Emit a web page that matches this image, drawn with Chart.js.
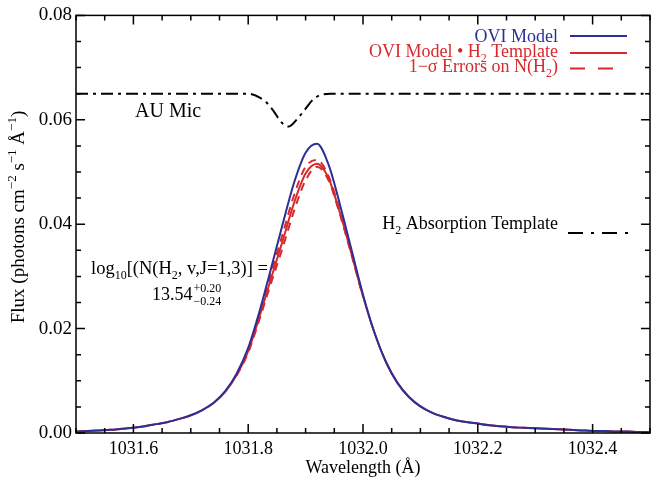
<!DOCTYPE html>
<html>
<head>
<meta charset="utf-8">
<script src="https://cdn.jsdelivr.net/npm/chart.js@4.4.1/dist/chart.umd.min.js"></script>
<style>
body { margin: 0; background: #fff; }
</style>
</head>
<body>
<canvas id="chart-ovi" width="651" height="481"></canvas>
<script>
// wavelength grid (Angstrom) and fluxes
var wavelength = [1031.50, 1031.52, 1031.54, 1031.56, 1031.58, 1031.60, 1031.62, 1031.64, 1031.66, 1031.68,
    1031.70, 1031.72, 1031.74, 1031.76, 1031.78, 1031.80, 1031.82, 1031.84, 1031.86, 1031.88,
    1031.90, 1031.92, 1031.94, 1031.96, 1031.98, 1032.00, 1032.02, 1032.04, 1032.06, 1032.08,
    1032.10, 1032.12, 1032.14, 1032.16, 1032.18, 1032.20, 1032.22, 1032.24, 1032.26, 1032.28,
    1032.30, 1032.32, 1032.34, 1032.36, 1032.38, 1032.40, 1032.42, 1032.44, 1032.46, 1032.48, 1032.50];

var oviModel = [0.0003, 0.0004, 0.0005, 0.0006, 0.0008, 0.0010, 0.0013, 0.0017, 0.0021, 0.0027,
    0.0034, 0.0044, 0.0058, 0.0080, 0.0114, 0.0163, 0.0234, 0.0316, 0.0400, 0.0480,
    0.0537, 0.0554, 0.0514, 0.0437, 0.0351, 0.0265, 0.0192, 0.0136, 0.0096, 0.0069,
    0.0051, 0.0039, 0.0031, 0.0025, 0.0021, 0.0018, 0.0015, 0.0013, 0.0011, 0.0010,
    0.0009, 0.0008, 0.0007, 0.0006, 0.0005, 0.0004, 0.0004, 0.0003, 0.0003, 0.0002, 0.0002];

var oviTimesH2 = [0.0003, 0.0004, 0.0005, 0.0006, 0.0008, 0.0010, 0.0013, 0.0017, 0.0021, 0.0027,
    0.0034, 0.0044, 0.0058, 0.0079, 0.0111, 0.0157, 0.0224, 0.0297, 0.0368, 0.0441,
    0.0497, 0.0516, 0.0488, 0.0421, 0.0343, 0.0262, 0.0192, 0.0136, 0.0096, 0.0069,
    0.0051, 0.0039, 0.0031, 0.0025, 0.0021, 0.0018, 0.0015, 0.0013, 0.0011, 0.0010,
    0.0009, 0.0008, 0.0007, 0.0006, 0.0005, 0.0004, 0.0004, 0.0003, 0.0003, 0.0002, 0.0002];

// 1-sigma error curves on N(H2), only where they split from the solid red line
var errWave = [1031.78, 1031.80, 1031.82, 1031.84, 1031.86, 1031.88, 1031.90, 1031.92, 1031.94, 1031.96, 1031.98, 1032.00];
var errHigh = [0.0112, 0.0160, 0.0229, 0.0306, 0.0381, 0.0456, 0.0510, 0.0523, 0.0492, 0.0424, 0.0345, 0.0263];
var errLow = [0.0110, 0.0154, 0.0219, 0.0288, 0.0355, 0.0426, 0.0484, 0.0510, 0.0484, 0.0418, 0.0341, 0.0261];

// H2 absorption template (scaled, offset to 0.065)
var templateWave = [1031.50, 1031.800, 1031.821, 1031.832, 1031.844, 1031.858, 1031.870, 1031.885, 1031.899, 1031.913, 1031.925, 1031.943, 1032.50];
var templateFlux = [0.0650, 0.0650, 0.0642, 0.0633, 0.0617, 0.0595, 0.0587, 0.0601, 0.0620, 0.0639, 0.0647, 0.0650, 0.0650];

var xTicks = [1031.6, 1031.8, 1032.0, 1032.2, 1032.4];
var yTicks = [0.00, 0.02, 0.04, 0.06, 0.08];

var SERIF = "'Liberation Serif', 'DejaVu Serif', serif";
var BLUE = '#2d2f96';
var RED = '#d7282e';

function toPoints(xs, ys) {
    return xs.map(function (x, i) { return { x: x, y: ys[i] }; });
}

// draws text with sub/superscript pieces: parts = [[text, mode]], mode 1 = sup, -1 = sub
function drawRich(ctx, parts, x, y, size, align, color) {
    var small = Math.round(size * 0.66);
    var w = 0;
    parts.forEach(function (p) {
        ctx.font = (p[1] ? small : size) + 'px ' + SERIF;
        w += ctx.measureText(p[0]).width;
    });
    var cx = x;
    if (align === 'right') cx = x - w;
    if (align === 'center') cx = x - w / 2;
    ctx.fillStyle = color;
    ctx.textAlign = 'left';
    ctx.textBaseline = 'alphabetic';
    parts.forEach(function (p) {
        ctx.font = (p[1] ? small : size) + 'px ' + SERIF;
        var dy = 0;
        if (p[1] === 1) dy = -size * 0.42;
        if (p[1] === -1) dy = size * 0.28;
        ctx.fillText(p[0], cx, y + dy);
        cx += ctx.measureText(p[0]).width;
    });
    return cx;
}

function legendLine(ctx, x1, x2, y, color, dash) {
    ctx.save();
    ctx.strokeStyle = color;
    ctx.lineWidth = 2;
    ctx.setLineDash(dash || []);
    ctx.beginPath();
    ctx.moveTo(x1, y);
    ctx.lineTo(x2, y);
    ctx.stroke();
    ctx.restore();
}

var idlAxes = {
    id: 'idlAxes',
    afterDatasetsDraw: function (chart) {
        var ctx = chart.ctx;
        var ca = chart.chartArea;
        var xs = chart.scales.x;
        var ys = chart.scales.y;
        ctx.save();
        ctx.strokeStyle = '#000';
        ctx.lineWidth = 1.5;
        ctx.strokeRect(ca.left, ca.top, ca.right - ca.left, ca.bottom - ca.top);

        // inward ticks, majors every 0.2 A / 0.02, minors in between
        ctx.beginPath();
        for (var i = 0; i <= 20; i++) {
            var v = 1031.5 + i * 0.05;
            var px = xs.getPixelForValue(v);
            var len = (i % 4 === 2) ? 9 : 5;
            ctx.moveTo(px, ca.bottom); ctx.lineTo(px, ca.bottom - len);
            ctx.moveTo(px, ca.top); ctx.lineTo(px, ca.top + len);
        }
        for (var j = 0; j <= 16; j++) {
            var py = ys.getPixelForValue(j * 0.005);
            var l2 = (j % 4 === 0) ? 9 : 5;
            ctx.moveTo(ca.left, py); ctx.lineTo(ca.left + l2, py);
            ctx.moveTo(ca.right, py); ctx.lineTo(ca.right - l2, py);
        }
        ctx.stroke();

        // y axis title
        ctx.save();
        ctx.translate(24, 217);
        ctx.rotate(-Math.PI / 2);
        drawRich(ctx, [['Flux (photons cm', 0], ['\u22122', 1], [' s', 0], ['\u22121', 1],
            [' \u00c5', 0], ['\u22121', 1], [')', 0]], 0, 0, 19, 'center', '#000');
        ctx.restore();

        // legend
        drawRich(ctx, [['OVI Model', 0]], 558, 41.5, 18, 'right', BLUE);
        legendLine(ctx, 570, 627, 36, BLUE);
        drawRich(ctx, [['OVI Model \u2022 H', 0], ['2', -1], [' Template', 0]], 558, 57, 18, 'right', RED);
        legendLine(ctx, 570, 627, 53, RED);
        drawRich(ctx, [['1\u2212\u03c3 Errors on N(H', 0], ['2', -1], [')', 0]], 558, 72, 18, 'right', RED);
        legendLine(ctx, 570, 614, 68.5, RED, [15, 13]);

        drawRich(ctx, [['AU Mic', 0]], 135, 117, 20, 'left', '#000');

        drawRich(ctx, [['H', 0], ['2', -1], [' Absorption Template', 0]], 558, 229, 18, 'right', '#000');
        legendLine(ctx, 568, 628, 233, '#000', [15, 8, 3, 8]);

        drawRich(ctx, [['log', 0], ['10', -1], ['[(N(H', 0], ['2', -1], [', v,J=1,3)] =', 0]], 91, 274, 18.5, 'left', '#000');
        var ex = drawRich(ctx, [['13.54', 0]], 152, 300, 18, 'left', '#000');
        drawRich(ctx, [['+0.20', 0]], ex + 1, 292, 12, 'left', '#000');
        drawRich(ctx, [['\u22120.24', 0]], ex + 1, 305, 12, 'left', '#000');

        ctx.restore();
    }
};

var chartCtx = document.getElementById('chart-ovi').getContext('2d');
var chartOvi = new Chart(chartCtx, {
    type: 'line',
    data: {
        datasets: [{
            label: 'OVI Model',
            data: toPoints(wavelength, oviModel),
            borderColor: BLUE,
            borderWidth: 2,
            pointRadius: 0,
            cubicInterpolationMode: 'monotone',
            order: 1
        }, {
            label: 'OVI Model \u2022 H2 Template',
            data: toPoints(wavelength, oviTimesH2),
            borderColor: RED,
            borderWidth: 2,
            pointRadius: 0,
            cubicInterpolationMode: 'monotone',
            order: 2
        }, {
            label: '1-sigma high',
            data: toPoints(errWave, errHigh),
            borderColor: RED,
            borderWidth: 2,
            borderDash: [8, 6],
            pointRadius: 0,
            cubicInterpolationMode: 'monotone',
            order: 3
        }, {
            label: '1-sigma low',
            data: toPoints(errWave, errLow),
            borderColor: RED,
            borderWidth: 2,
            borderDash: [8, 6],
            pointRadius: 0,
            cubicInterpolationMode: 'monotone',
            order: 4
        }, {
            label: 'H2 Absorption Template',
            data: toPoints(templateWave, templateFlux),
            borderColor: '#000',
            borderWidth: 2,
            borderDash: [12, 5, 3, 5],
            pointRadius: 0,
            cubicInterpolationMode: 'monotone',
            order: 5
        }]
    },
    options: {
        responsive: false,
        animation: false,
        layout: { padding: { top: 10, right: 1, left: 0, bottom: 0 } },
        plugins: { legend: { display: false }, tooltip: { enabled: false } },
        scales: {
            x: {
                type: 'linear',
                min: 1031.5,
                max: 1032.5,
                afterBuildTicks: function (scale) {
                    scale.ticks = xTicks.map(function (v) { return { value: v }; });
                },
                afterFit: function (scale) { scale.height = 48; },
                grid: { display: false, drawTicks: false },
                border: { display: false },
                ticks: {
                    padding: 5,
                    color: '#000',
                    maxRotation: 0,
                    autoSkip: false,
                    font: { family: SERIF, size: 18 },
                    callback: function (v) { return v.toFixed(1); }
                },
                title: {
                    display: true,
                    text: 'Wavelength (\u00c5)',
                    color: '#000',
                    font: { family: SERIF, size: 18 },
                    padding: { top: 0, bottom: 2 }
                }
            },
            y: {
                min: 0,
                max: 0.08,
                afterBuildTicks: function (scale) {
                    scale.ticks = yTicks.map(function (v) { return { value: v }; });
                },
                afterFit: function (scale) { scale.width = 76; },
                grid: { display: false, drawTicks: false },
                border: { display: false },
                ticks: {
                    padding: 4,
                    color: '#000',
                    autoSkip: false,
                    font: { family: SERIF, size: 19 },
                    callback: function (v) { return v.toFixed(2); }
                }
            }
        }
    },
    plugins: [idlAxes]
});
</script>
</body>
</html>
